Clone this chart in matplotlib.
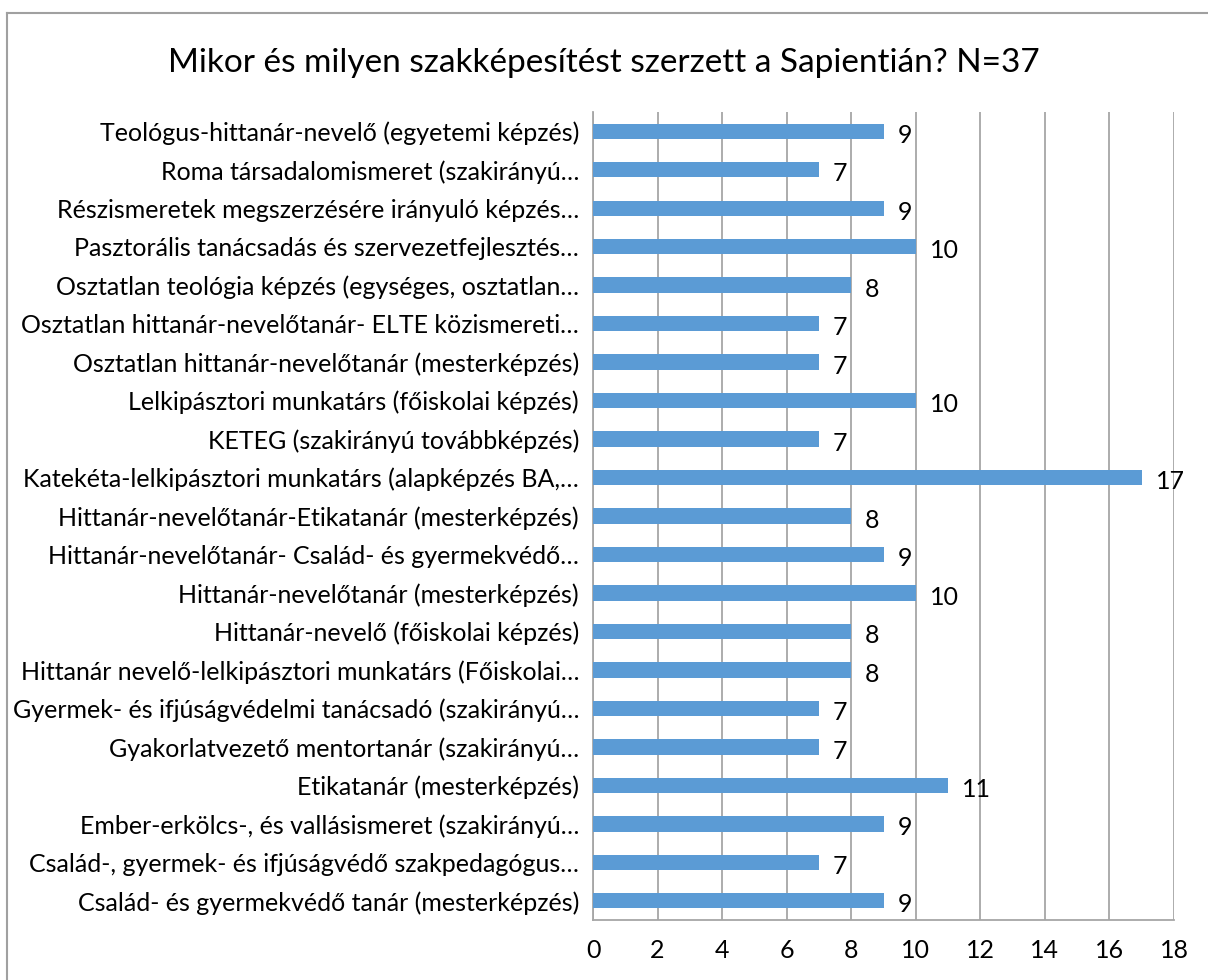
import matplotlib.pyplot as plt
from matplotlib.lines import Line2D

# categories top to bottom, as shown in the chart
categories = [
    "Teológus-hittanár-nevelő (egyetemi képzés)",
    "Roma társadalomismeret (szakirányú…",
    "Részismeretek megszerzésére irányuló képzés…",
    "Pasztorális tanácsadás és szervezetfejlesztés…",
    "Osztatlan teológia képzés (egységes, osztatlan…",
    "Osztatlan hittanár-nevelőtanár- ELTE közismereti…",
    "Osztatlan hittanár-nevelőtanár (mesterképzés)",
    "Lelkipásztori munkatárs (főiskolai képzés)",
    "KETEG (szakirányú továbbképzés)",
    "Katekéta-lelkipásztori munkatárs (alapképzés BA,…",
    "Hittanár-nevelőtanár-Etikatanár (mesterképzés)",
    "Hittanár-nevelőtanár- Család- és gyermekvédő…",
    "Hittanár-nevelőtanár (mesterképzés)",
    "Hittanár-nevelő (főiskolai képzés)",
    "Hittanár nevelő-lelkipásztori munkatárs (Főiskolai…",
    "Gyermek- és ifjúságvédelmi tanácsadó (szakirányú…",
    "Gyakorlatvezető mentortanár (szakirányú…",
    "Etikatanár (mesterképzés)",
    "Ember-erkölcs-, és vallásismeret (szakirányú…",
    "Család-, gyermek- és ifjúságvédő szakpedagógus…",
    "Család- és gyermekvédő tanár (mesterképzés)",
]
counts = [9, 7, 9, 10, 8, 7, 7, 10, 7, 17, 8, 9, 10, 8, 8, 7, 7, 11, 9, 7, 9]
x_ticks = list(range(0, 19, 2))

plt.rcParams['font.family'] = ['Lato', 'DejaVu Sans']
FS = 18

fig = plt.figure(figsize=(12.08, 9.8), dpi=100)
ax = fig.add_axes([0.4909, 0.0612, 0.4810, 0.8245])

pos = list(range(len(categories)))
ax.barh(pos, counts, height=0.4, color='#5B9BD5', zorder=3)
ax.set_ylim(len(categories) - 0.5, -0.5)
ax.set_xlim(0, 18)
ax.set_yticks(pos)
ax.set_yticklabels(categories, fontsize=FS)
ax.set_xticks(x_ticks)
ax.set_xticklabels([str(t) for t in x_ticks], fontsize=FS)
ax.tick_params(axis='y', length=0, pad=10)
ax.tick_params(axis='x', length=0, pad=14)

ax.grid(axis='x', color='#A6A6A6', linewidth=1.3, zorder=0)
for side in ['top', 'right']:
    ax.spines[side].set_visible(False)
for side in ['left', 'bottom']:
    ax.spines[side].set_color('#A6A6A6')
    ax.spines[side].set_linewidth(1.3)

for p, v in zip(pos, counts):
    ax.annotate(str(v), xy=(v, p), xytext=(10, -3), textcoords='offset points',
                ha='left', va='center', fontsize=FS, zorder=4)

fig.text(0.5, 0.936, "Mikor és milyen szakképesítést szerzett a Sapientián? N=37",
         ha='center', va='center', fontsize=24)

# chart frame (only left and top edges visible in the crop)
fig.add_artist(Line2D([7 / 1208, 7 / 1208], [0, 1 - 13 / 980], transform=fig.transFigure,
                      color='#A0A0A0', linewidth=1.5))
fig.add_artist(Line2D([7 / 1208, 1], [1 - 13 / 980, 1 - 13 / 980], transform=fig.transFigure,
                      color='#A0A0A0', linewidth=1.5))

fig.savefig('out.png', dpi=100, facecolor='white')
